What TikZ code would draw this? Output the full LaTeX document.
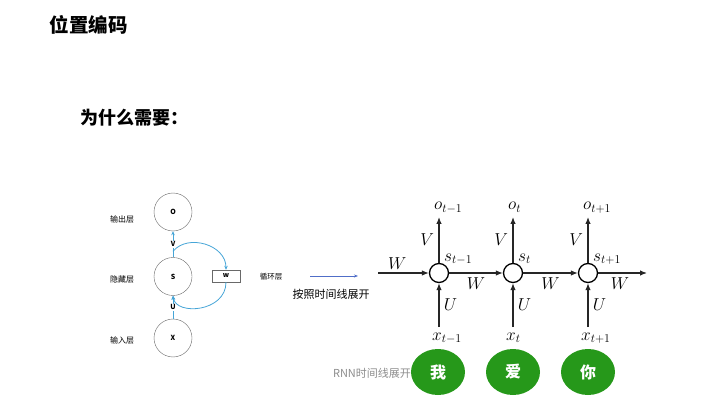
\documentclass[tikz,border=0pt]{standalone}
\usepackage{fontspec}
\setmainfont{Noto Sans CJK SC}
\usetikzlibrary{arrows.meta, positioning, shapes.geometric}
\definecolor{loopblue}{RGB}{70,165,215}
\definecolor{unrollblue}{RGB}{80,110,200}
\definecolor{ringgray}{RGB}{105,105,105}
\definecolor{wordgreen}{RGB}{38,152,26}

\begin{document}
\begin{tikzpicture}[x=1pt, y=1pt,
        layer/.style={circle, draw=ringgray, minimum size=38pt, inner sep=0pt, font=\fontsize{7}{8}\selectfont\bfseries},
        tag/.style={font=\fontsize{8}{9}\selectfont},
        cell/.style={circle, draw, line width=1.3pt, minimum size=19pt, inner sep=0pt},
        word/.style={ellipse, fill=wordgreen, minimum width=54pt, minimum height=46pt, text=white, font=\fontsize{16}{18}\selectfont\bfseries},
        flow/.style={-{Latex[length=7pt,width=5.5pt]}, line width=1.2pt, draw=black!85},
        loop/.style={-{Stealth[length=4pt,width=3.5pt]}, loopblue, line width=0.8pt},
        lbl/.style={font=\fontsize{17}{18}\selectfont}]

    \useasboundingbox (0,0) rectangle (704,410);

    % titles
    \node[anchor=west, font=\fontsize{19.5}{22}\selectfont\bfseries] (title) at (46,385) {位置编码};
    \node[anchor=west, font=\fontsize{18}{20}\selectfont\bfseries] (why) at (77,292) {为什么需要：};

    % folded RNN
    \node[layer] (O) at (173,198) {O};
    \node[layer] (S) at (173,133.5) {S};
    \node[layer] (X) at (173,72) {X};
    \node[draw=ringgray, minimum width=28pt, minimum height=12pt, inner sep=0pt, font=\fontsize{7}{8}\selectfont\bfseries] (w) at (226,134) {w};
    \node[tag] (outl) at (122,191) {输出层};
    \node[tag] (hidl) at (122,131) {隐藏层};
    \node[tag] (inl) at (122,70) {输入层};
    \node[tag, font=\fontsize{7.5}{9}\selectfont] (recl) at (271,133) {循环层};
    \draw[loop] (S.north) -- node[fill=white, inner sep=1pt, text=black, font=\fontsize{7}{8}\selectfont\bfseries] {V} (O.south);
    \draw[loop] (X.north) -- node[fill=white, inner sep=1pt, text=black, font=\fontsize{7}{8}\selectfont\bfseries] {U} (S.south);
    \draw[loop] ([yshift=6pt]S.north) .. controls +(15,18) and +(0,25) .. (w.north);
    \draw[loop] (w.south) .. controls +(0,-30) and +(3,-20) .. (S.south);

    % unroll arrow
    \coordinate (ua) at (310,134);
    \coordinate (ub) at (358,134);
    \draw[-{Stealth[length=4pt]}, unrollblue, line width=0.6pt] (ua) -- (ub);
    \node[font=\fontsize{11}{13}\selectfont] (unroll) at (331,116) {按照时间线展开};

    % unrolled RNN
    \node[cell] (s1) at (439,137) {};
    \node[cell] (s2) at (513,137) {};
    \node[cell] (s3) at (588,137) {};
    \coordinate (win) at (378,137);
    \coordinate (wout) at (647,137);
    \coordinate (ot1) at (439,193);
    \coordinate (ot2) at (513,193);
    \coordinate (ot3) at (588,193);
    \coordinate (xt1) at (439,83);
    \coordinate (xt2) at (513,83);
    \coordinate (xt3) at (588,83);

    \draw[flow] (win) -- node[lbl, above, pos=0.38] {$W$} (s1);
    \draw[flow] (s1) -- node[lbl, below=1pt] {$W$} (s2);
    \draw[flow] (s2) -- node[lbl, below=1pt] {$W$} (s3);
    \draw[flow] (s3) -- node[lbl, below=1pt, pos=0.45] {$W$} (wout);

    \draw[flow] (s1) -- node[lbl, left=1pt] {$V$} (ot1);
    \draw[flow] (s2) -- node[lbl, left=1pt] {$V$} (ot2);
    \draw[flow] (s3) -- node[lbl, left=1pt] {$V$} (ot3);
    \draw[flow] (xt1) -- node[lbl, right=1pt] {$U$} (s1);
    \draw[flow] (xt2) -- node[lbl, right=1pt] {$U$} (s2);
    \draw[flow] (xt3) -- node[lbl, right=1pt] {$U$} (s3);

    \node[lbl, anchor=base west, inner sep=0pt] (o1) at (434,200) {$o_{t-1}$};
    \node[lbl, anchor=base west, inner sep=0pt] (o2) at (508,200) {$o_{t}$};
    \node[lbl, anchor=base west, inner sep=0pt] (o3) at (583,200) {$o_{t+1}$};
    \node[lbl, anchor=base west, inner sep=0pt] (sl1) at (444,149) {$s_{t-1}$};
    \node[lbl, anchor=base west, inner sep=0pt] (sl2) at (518,149) {$s_{t}$};
    \node[lbl, anchor=base west, inner sep=0pt] (sl3) at (593,149) {$s_{t+1}$};
    \node[lbl, anchor=base west, inner sep=0pt] (x1) at (432,70) {$x_{t-1}$};
    \node[lbl, anchor=base west, inner sep=0pt] (x2) at (506,70) {$x_{t}$};
    \node[lbl, anchor=base west, inner sep=0pt] (x3) at (581,70) {$x_{t+1}$};

    % caption and words
    \node[text=black!45, font=\fontsize{11}{13}\selectfont] (cap) at (372,37) {RNN时间线展开};
    \node[word] (g1) at (438,38) {我};
    \node[word] (g2) at (513,38) {爱};
    \node[word] (g3) at (588,38) {你};
\end{tikzpicture}
\end{document}
